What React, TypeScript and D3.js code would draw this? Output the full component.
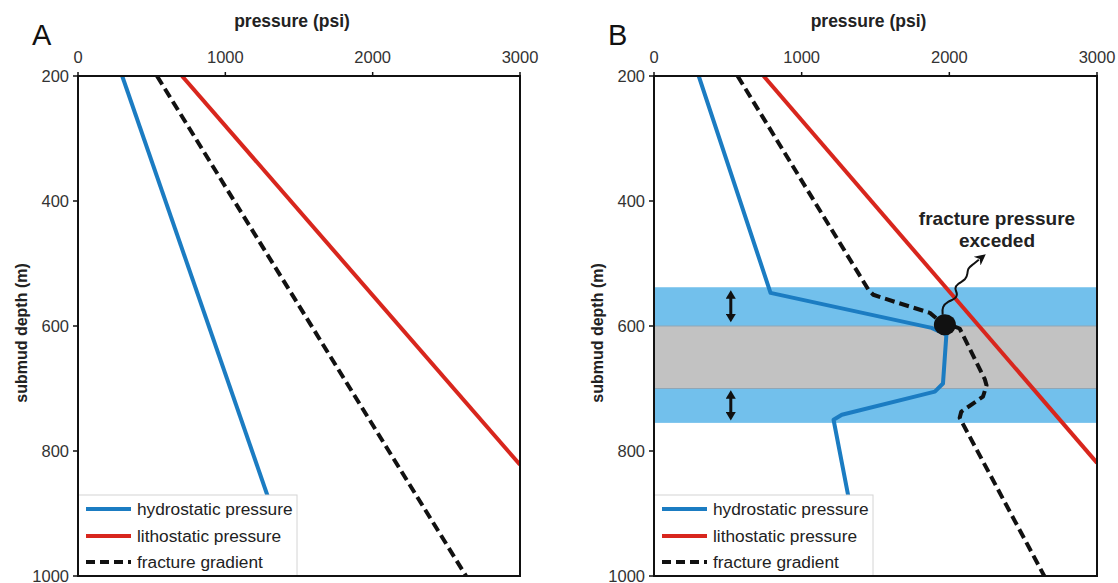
import React from "react";
import * as d3 from "d3";

// ---- data (depth m, pressure psi) ----
const depthTicks = [200, 400, 600, 800, 1000];
const pressureTicks = [0, 1000, 2000, 3000];

const hydroA: [number, number][] = [[200, 300], [1000, 1475]];
const lithoA: [number, number][] = [[200, 706], [822, 3000]];
const fracA: [number, number][] = [[200, 536], [1000, 2634]];

const hydroB: [number, number][] = [
  [200, 303], [547, 789], [603, 1880], [614, 1980], [692, 1957], [705, 1902],
  [742, 1272], [750, 1216], [1000, 1420],
];
const lithoB: [number, number][] = [[200, 742], [819, 3000]];
const fracB: [number, number][] = [
  [200, 566], [543, 1455], [550, 1485], [556, 1560], [579, 1868], [592, 1935], [604, 2070],
  [685, 2240], [695, 2252], [713, 2228], [737, 2081], [747, 2070], [1000, 2643],
];

// layers in panel B: [top depth, bottom depth, kind]
const bands: [number, number, string][] = [
  [538, 600, "blue"], [600, 700, "gray"], [700, 755, "blue"],
];
const fracturePoint: [number, number] = [598, 1970];
const squiggle: [number, number][] = [
  [582, 1955], [569, 1951], [561, 1989], [556, 2045], [548, 2056], [540, 2034],
  [532, 2056], [526, 2113], [516, 2124], [508, 2124], [502, 2157], [494, 2200],
];
const layerArrowPsi = 520;
const layerArrows: [number, number][] = [[539, 598], [699, 755]];

const legendItems = [
  { label: "hydrostatic pressure", key: "hydro" },
  { label: "lithostatic pressure", key: "litho" },
  { label: "fracture gradient", key: "frac" },
];

const BLUE = "#1b7cc2";
const RED = "#d8261d";
const BAND_BLUE = "#72c0ec";
const BAND_GRAY = "#c2c2c2";
const FONT = "'Liberation Sans', Arial, Helvetica, sans-serif";

const TOP = 76;
const BOTTOM = 576;

function Panel({ letter, x0, x1, hydro, litho, frac, showB }: any) {
  const x = d3.scaleLinear().domain([0, 3000]).range([x0, x1]);
  const y = d3.scaleLinear().domain([200, 1000]).range([TOP, BOTTOM]);
  const line = d3
    .line<[number, number]>()
    .x((d) => x(d[1]))
    .y((d) => y(d[0]));
  const legX1 = x0 + 219;
  const legY0 = 495;
  const rows = [509, 536, 562];
  const styles: any = {
    hydro: { stroke: BLUE, dash: undefined },
    litho: { stroke: RED, dash: undefined },
    frac: { stroke: "#111", dash: "9,5" },
  };
  const clipId = "clip" + letter;
  return (
    <g>
      <defs>
        <clipPath id={clipId}>
          <rect x={x0} y={TOP} width={x1 - x0} height={BOTTOM - TOP} />
        </clipPath>
      </defs>
      {showB &&
        bands.map((b, i) => (
          <rect
            key={i}
            x={x0}
            y={y(b[0])}
            width={x1 - x0}
            height={y(b[1]) - y(b[0])}
            fill={b[2] === "blue" ? BAND_BLUE : BAND_GRAY}
          />
        ))}
      {showB &&
        [600, 700].map((d) => (
          <line key={d} x1={x0} x2={x1} y1={y(d)} y2={y(d)} stroke="#8fa6b6" strokeWidth={1} />
        ))}
      {showB &&
        layerArrows.map((a, i) => (
          <line
            key={i}
            x1={x(layerArrowPsi)}
            x2={x(layerArrowPsi)}
            y1={y(a[0]) + 10}
            y2={y(a[1]) - 10}
            stroke="#111"
            strokeWidth={3}
            markerStart="url(#arrowS)"
            markerEnd="url(#arrowE)"
          />
        ))}
      <g clipPath={`url(#${clipId})`}>
        <path d={line(hydro) || ""} fill="none" stroke={BLUE} strokeWidth={4} strokeLinejoin="round" />
        <path d={line(litho) || ""} fill="none" stroke={RED} strokeWidth={4} />
        <path
          d={line(frac) || ""}
          fill="none"
          stroke="#111"
          strokeWidth={4}
          strokeLinejoin="round"
          strokeDasharray="10,5"
        />
      </g>
      {showB && (
        <g>
          <path
            d={d3.line<[number, number]>().x((d) => x(d[1])).y((d) => y(d[0])).curve(d3.curveBasis)(squiggle) || ""}
            fill="none"
            stroke="#111"
            strokeWidth={2}
            markerEnd="url(#arrowHead)"
          />
          <ellipse cx={x(fracturePoint[1])} cy={y(fracturePoint[0])} rx={11} ry={10.5} fill="#111" />
          <text x={997} y={225} textAnchor="middle" fontFamily={FONT} fontWeight="bold" fontSize={19} fill="#222">
            fracture pressure
          </text>
          <text x={997} y={247} textAnchor="middle" fontFamily={FONT} fontWeight="bold" fontSize={19} fill="#222">
            exceded
          </text>
        </g>
      )}
      {/* legend */}
      <rect x={x0} y={legY0} width={legX1 - x0} height={BOTTOM - legY0} fill="#fff" stroke="#d4d4d4" strokeWidth={1} />
      {legendItems.map((it, i) => (
        <g key={it.key}>
          <line
            x1={x0 + 8}
            x2={x0 + 53}
            y1={rows[i]}
            y2={rows[i]}
            stroke={styles[it.key].stroke}
            strokeWidth={4}
            strokeDasharray={styles[it.key].dash}
          />
          <text x={x0 + 59} y={rows[i] + 6} fontFamily={FONT} fontSize={17.3} fill="#222">
            {it.label}
          </text>
        </g>
      ))}
      {/* frame */}
      <rect x={x0} y={TOP} width={x1 - x0} height={BOTTOM - TOP} fill="none" stroke="#111" strokeWidth={2} />
      {/* y ticks */}
      {depthTicks.map((t) => (
        <g key={t}>
          <line x1={x0 - 5} x2={x0} y1={y(t)} y2={y(t)} stroke="#111" strokeWidth={1.5} />
          <text x={x0 - 9} y={y(t) + 6} textAnchor="end" fontFamily={FONT} fontSize={16.5} fill="#333">
            {t}
          </text>
        </g>
      ))}
      {/* x ticks */}
      {pressureTicks.map((t) => (
        <g key={t}>
          <line x1={x(t)} x2={x(t)} y1={TOP - 4} y2={TOP} stroke="#111" strokeWidth={1.5} />
          <text x={x(t)} y={63} textAnchor="middle" fontFamily={FONT} fontSize={16.5} fill="#333">
            {t}
          </text>
        </g>
      ))}
      <text x={(x0 + x1) / 2 - 7} y={27} textAnchor="middle" fontFamily={FONT} fontWeight="bold" fontSize={17.5} fill="#222">
        pressure (psi)
      </text>
      <text
        transform={`translate(${x0 - 51},333) rotate(-90)`}
        textAnchor="middle"
        fontFamily={FONT}
        fontWeight="bold"
        fontSize={16}
        fill="#222"
      >
        submud depth (m)
      </text>
      <text x={x0 - 46} y={45} fontFamily={FONT} fontSize={29} fill="#111">
        {letter}
      </text>
    </g>
  );
}

export default function App() {
  return (
    <svg
      width={1118}
      height={583}
      style={{ position: "absolute", left: 0, top: 0, background: "#fff" }}
    >
      <defs>
        <marker id="arrowE" viewBox="0 0 10 12" refX="1" refY="6" markerWidth="12" markerHeight="10" orient="auto" markerUnits="userSpaceOnUse">
          <path d="M0,0 L10,6 L0,12 z" fill="#111" />
        </marker>
        <marker id="arrowS" viewBox="0 0 10 12" refX="9" refY="6" markerWidth="12" markerHeight="10" orient="auto" markerUnits="userSpaceOnUse">
          <path d="M10,0 L0,6 L10,12 z" fill="#111" />
        </marker>
        <marker id="arrowHead" viewBox="0 0 10 10" refX="2" refY="5" markerWidth="13" markerHeight="11" orient="auto" markerUnits="userSpaceOnUse">
          <path d="M0,0 L10,5 L0,10 L3,5 z" fill="#111" />
        </marker>
      </defs>
      <Panel letter="A" x0={78} x1={520} hydro={hydroA} litho={lithoA} frac={fracA} showB={false} />
      <Panel letter="B" x0={654} x1={1097} hydro={hydroB} litho={lithoB} frac={fracB} showB={true} />
    </svg>
  );
}
